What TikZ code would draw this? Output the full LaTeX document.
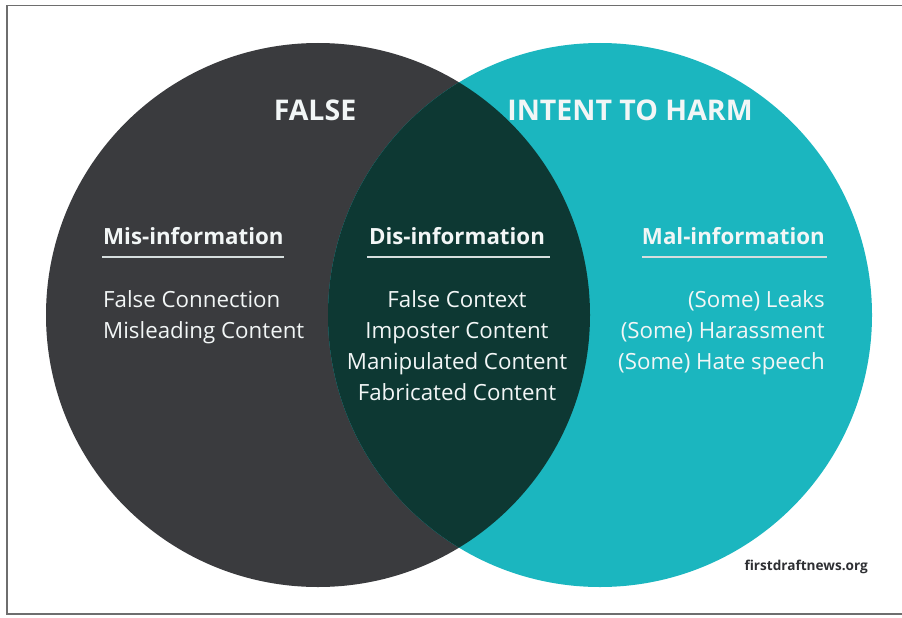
\documentclass[tikz,border=0pt]{standalone}
\usepackage{fontspec}
\setmainfont{Open Sans}
\definecolor{darkc}{HTML}{3A3B3E}
\definecolor{tealc}{HTML}{1BB6BF}
\definecolor{interc}{HTML}{0D3833}
\definecolor{txtc}{HTML}{F2F6F6}
\definecolor{rulec}{HTML}{D6DEDE}
\definecolor{framec}{HTML}{6E6E6E}
\definecolor{credc}{HTML}{2E2F33}
\tikzset{
  title/.style={font=\bfseries\fontsize{28.5}{30}\selectfont, text=txtc, inner sep=0pt},
  header/.style={font=\bfseries\fontsize{22.3}{24}\selectfont, text=txtc, inner sep=0pt},
  items/.style={font=\fontsize{22.3}{31.3}\selectfont, text=txtc, inner sep=0pt},
  hrule/.style={draw=rulec, line width=2pt},
}
\begin{document}
\begin{tikzpicture}[x=1pt,y=-1pt]
\useasboundingbox (0,0) rectangle (902,618);
\draw[framec, line width=1.5pt] (903,5.5) -- (7,5.5) -- (7,614) -- (903,614);
\fill[darkc] (318,315) circle (272pt);
\fill[tealc] (600,315) circle (272pt);
\begin{scope}
  \clip (318,315) circle (272pt);
  \fill[interc] (600,315) circle (272pt);
\end{scope}
\node[title, anchor=base] (false) at (315,120) {FALSE};
\node[title, anchor=base] (harm) at (630,120) {INTENT TO HARM};
\node[header, anchor=base west] (mis) at (103,244) {Mis-information};
\node[header, anchor=base] (dis) at (457,244) {Dis-information};
\node[header, anchor=base east] (mal) at (825,244) {Mal-information};
\draw[hrule] (102,257) -- (284,257);
\draw[hrule] (367,257) -- (550,257);
\draw[hrule] (642,257) -- (827,257);
\node[items, anchor=base west, align=left] (misitems) at (103,338.3) {False Connection\\Misleading Content};
\node[items, anchor=base, align=center] (disitems) at (457,400.9) {False Context\\Imposter Content\\Manipulated Content\\Fabricated Content};
\node[items, anchor=base east, align=right] (malitems) at (825,369.6) {(Some) Leaks\\(Some) Harassment\\(Some) Hate speech};
\node[font=\bfseries\fontsize{13.6}{16}\selectfont, text=credc, inner sep=0pt, anchor=base east] (credit) at (868,570) {firstdraftnews.org};
\end{tikzpicture}
\end{document}
